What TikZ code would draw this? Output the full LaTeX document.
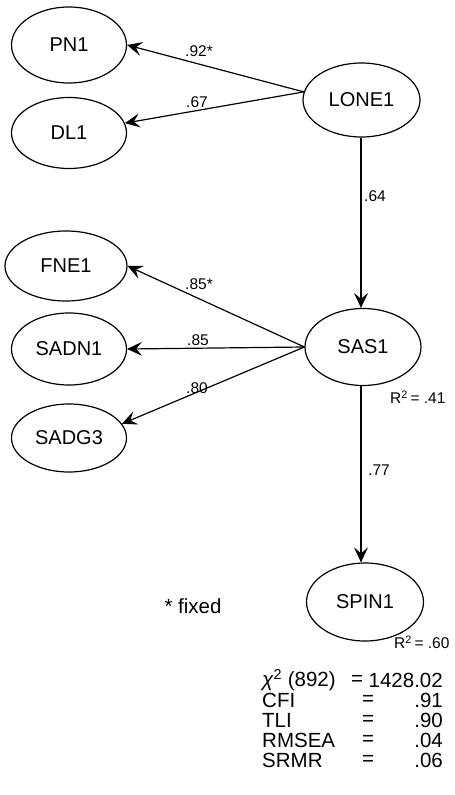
\documentclass[tikz,border=0pt]{standalone}
\usepackage{fontspec}
\setmainfont{Liberation Sans}
\usetikzlibrary{shapes.geometric,arrows.meta}
\begin{document}
\begin{tikzpicture}[x=1pt,y=-1pt,
  lat/.style={draw,ellipse,line width=1.2pt,inner sep=0pt,font=\fontsize{20}{24}\selectfont},
  path/.style={line width=1.2pt,-{Stealth[length=15pt,width=14pt,inset=6pt]}},
  coef/.style={font=\fontsize{15.5}{18}\selectfont,inner sep=0pt},
  rsq/.style={font=\fontsize{15.5}{18}\selectfont,inner sep=0pt},
  stat/.style={font=\fontsize{20.5}{24}\selectfont,inner sep=0pt}]
\useasboundingbox (0,0) rectangle (455,795);
% latent variables
\node[lat,minimum width=115pt,minimum height=76pt] (PN1) at (69,45) {PN1};
\node[lat,minimum width=115pt,minimum height=71pt] (DL1) at (69,133) {DL1};
\node[lat,minimum width=117pt,minimum height=74pt] (LONE1) at (361.5,100) {LONE1};
\node[lat,minimum width=122pt,minimum height=70pt] (FNE1) at (66,266) {FNE1};
\node[lat,minimum width=115pt,minimum height=72pt] (SADN1) at (69,349) {SADN1};
\node[lat,minimum width=115pt,minimum height=68pt] (SADG3) at (69,438) {SADG3};
\node[lat,minimum width=116pt,minimum height=77pt] (SAS1) at (363,347) {SAS1};
\node[lat,minimum width=117pt,minimum height=78pt] (SPIN1) at (365,602) {SPIN1};
% paths
\draw[path] (LONE1.172) -- (PN1.east);
\draw[path] (LONE1.172) -- (DL1.10);
\draw[path] (LONE1.south -| 361,0) -- (SAS1.north -| 361,0);
\draw[path] (SAS1.west) -- (FNE1.east);
\draw[path] (SAS1.west) -- (SADN1.east);
\draw[path] (SAS1.west) -- (SADG3.15);
\draw[path] (SAS1.south -| 361,0) -- (SPIN1.north -| 361,0);
% coefficients
\node[coef] (c1) at (199,51) {.92*};
\node[coef] (c2) at (197,102) {.67};
\node[coef] (c3) at (375,196) {.64};
\node[coef] (c4) at (199,284) {.85*};
\node[coef] (c5) at (198,340) {.85};
\node[coef] (c6) at (197,388) {.80};
\node[coef] (c7) at (379,470) {.77};
\node[rsq,anchor=west] (r1) at (390,397) {R\textsuperscript{2}\,= .41};
\node[rsq,anchor=west] (r2) at (394,642) {R\textsuperscript{2}\,= .60};
\node[stat] (fx) at (193,606) {* fixed};
% fit statistics
\node[stat,anchor=west] (l1) at (262,680) {\textit{χ}\textsuperscript{2} (892)};
\node[stat,anchor=west] (l2) at (262,700) {CFI};
\node[stat,anchor=west] (l3) at (262,720) {TLI};
\node[stat,anchor=west] (l4) at (262,740) {RMSEA};
\node[stat,anchor=west] (l5) at (262,760) {SRMR};
\node[stat] (e1) at (357,680) {=};
\node[stat] (e2) at (368,700) {=};
\node[stat] (e3) at (368,720) {=};
\node[stat] (e4) at (368,740) {=};
\node[stat] (e5) at (368,760) {=};
\node[stat,anchor=east] (v1) at (443,680) {1428.02};
\node[stat,anchor=east] (v2) at (443,700) {.91};
\node[stat,anchor=east] (v3) at (443,720) {.90};
\node[stat,anchor=east] (v4) at (443,740) {.04};
\node[stat,anchor=east] (v5) at (443,760) {.06};
\end{tikzpicture}
\end{document}
